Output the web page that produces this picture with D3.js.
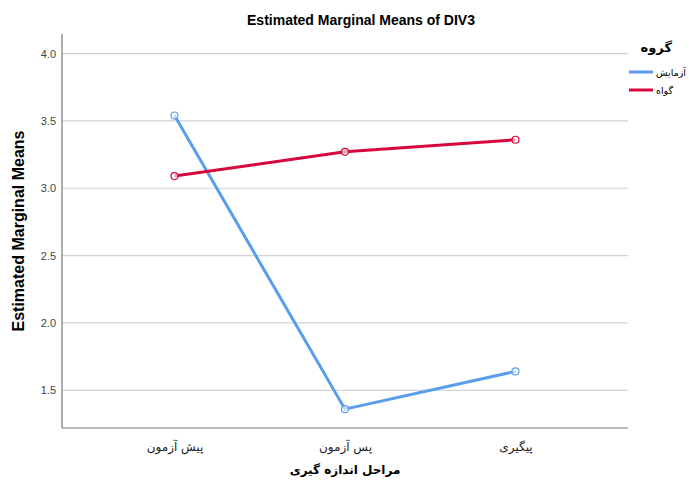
<!DOCTYPE html>
<html>
<head>
<meta charset="utf-8">
<script src="https://cdn.jsdelivr.net/npm/d3@7"></script>
<style>
  body { margin: 0; background: #fff; }
  text { font-family: "Liberation Sans", Arial, sans-serif; }
  .fa { font-family: "DejaVu Sans", sans-serif; }
</style>
</head>
<body>
<div id="chart"></div>
<script>
// data
var stages = ["پیش آزمون", "پس آزمون", "پیگیری"];
var groups = ["آزمایش", "گواه"];
var experimental = [3.54, 1.36, 1.64];
var control = [3.09, 3.27, 3.36];
var yTicks = [1.5, 2.0, 2.5, 3.0, 3.5, 4.0];
var colors = ["#5b9ded", "#d6083b"];

var W = 689, H = 486;
var plotLeft = 62, plotRight = 628, plotTop = 34, plotBottom = 428;

var svg = d3.select("#chart").append("svg")
    .attr("width", W).attr("height", H);

var x = d3.scalePoint().domain(stages).range([plotLeft, plotRight]).padding(0.66);
var y = d3.scaleLinear().domain([1.22, 4.145]).range([plotBottom, plotTop]);

// gridlines
svg.append("g")
    .selectAll("line")
    .data(yTicks)
    .enter().append("line")
    .attr("x1", plotLeft).attr("x2", plotRight)
    .attr("y1", function (d) { return y(d); })
    .attr("y2", function (d) { return y(d); })
    .attr("stroke", "#d3d3d3").attr("stroke-width", 1.2);

// y axis
var yAxis = svg.append("g")
    .attr("transform", "translate(" + plotLeft + ",0)")
    .call(d3.axisLeft(y).tickValues(yTicks).tickFormat(d3.format(".1f")).tickSize(0).tickPadding(6));
yAxis.select(".domain").remove();
yAxis.selectAll("text").attr("fill", "#444").style("font-size", "11px");

// x axis
var xAxis = svg.append("g")
    .attr("transform", "translate(0," + plotBottom + ")")
    .call(d3.axisBottom(x).tickSize(0).tickPadding(14));
xAxis.select(".domain").remove();
xAxis.selectAll("text").attr("class", "fa").attr("fill", "#222").style("font-size", "12px");

// frame
svg.append("line").attr("x1", plotLeft).attr("x2", plotLeft).attr("y1", plotTop).attr("y2", plotBottom)
    .attr("stroke", "#777").attr("stroke-width", 1.2);
svg.append("line").attr("x1", plotLeft).attr("x2", plotRight).attr("y1", plotBottom).attr("y2", plotBottom)
    .attr("stroke", "#777").attr("stroke-width", 1.2);

// lines
var series = [experimental, control];
var line = d3.line()
    .x(function (d, i) { return x(stages[i]); })
    .y(function (d) { return y(d); });

series.forEach(function (s, k) {
    svg.append("path").datum(s)
        .attr("d", line)
        .attr("fill", "none")
        .attr("stroke", colors[k])
        .attr("stroke-width", 3);
    svg.append("g").selectAll("circle")
        .data(s)
        .enter().append("circle")
        .attr("cx", function (d, i) { return x(stages[i]); })
        .attr("cy", function (d) { return y(d); })
        .attr("r", 3.5)
        .attr("fill", "#fff").attr("fill-opacity", 0.6)
        .attr("stroke", colors[k]).attr("stroke-width", 1.2);
});

// titles
svg.append("text")
    .attr("x", 361).attr("y", 25)
    .attr("text-anchor", "middle")
    .style("font-size", "14px").style("font-weight", "bold")
    .text("Estimated Marginal Means of DIV3");

svg.append("text")
    .attr("transform", "translate(24," + 231 + ") rotate(-90)")
    .attr("text-anchor", "middle")
    .style("font-size", "16px").style("font-weight", "bold")
    .text("Estimated Marginal Means");

svg.append("text")
    .attr("class", "fa")
    .attr("x", 345).attr("y", 474)
    .attr("text-anchor", "middle")
    .style("font-size", "12px").style("font-weight", "bold")
    .text("مراحل اندازه گیری");

// legend
svg.append("text")
    .attr("class", "fa")
    .attr("x", 672).attr("y", 52)
    .attr("text-anchor", "end")
    .style("font-size", "13px").style("font-weight", "bold")
    .text("گروه");

var lg = svg.append("g").selectAll("g")
    .data(groups)
    .enter().append("g")
    .attr("transform", function (d, i) { return "translate(0," + (72 + 18 * i) + ")"; });
lg.append("line")
    .attr("x1", 629).attr("x2", 653)
    .attr("stroke", function (d, i) { return colors[i]; })
    .attr("stroke-width", 3);
lg.append("text")
    .attr("class", "fa")
    .attr("x", 656).attr("y", 4)
    .attr("direction", "ltr")
    .attr("text-anchor", "start")
    .style("font-size", "9.5px")
    .text(function (d) { return d; });
</script>
</body>
</html>
